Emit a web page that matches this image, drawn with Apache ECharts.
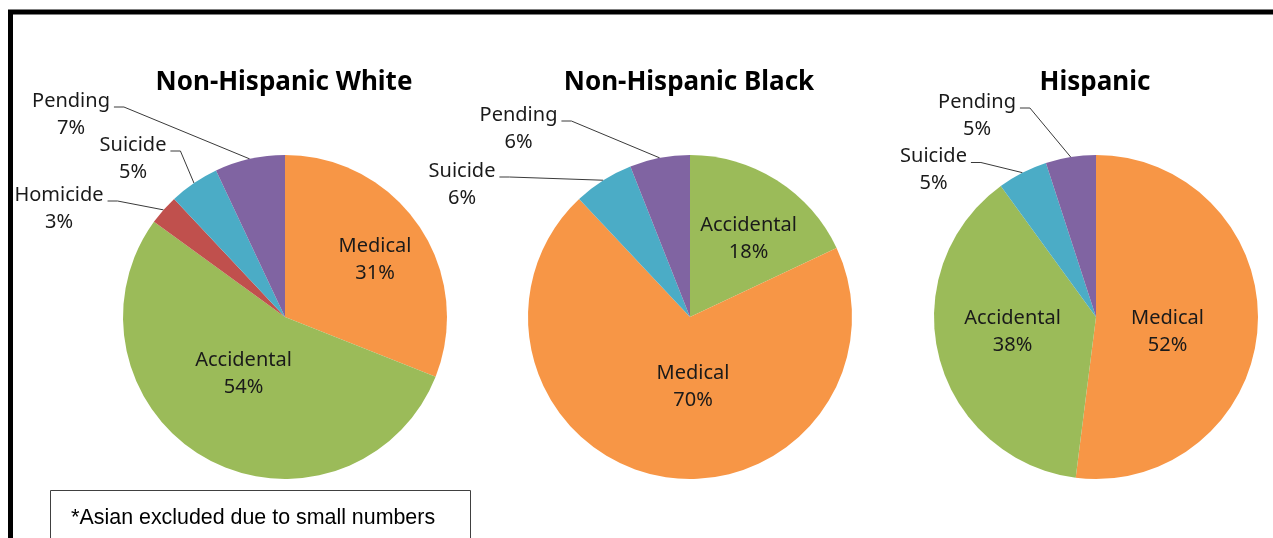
<!DOCTYPE html>
<html>
<head>
<meta charset="utf-8">
<script src="https://cdn.jsdelivr.net/npm/echarts@6/dist/echarts.min.js"></script>
<style>
html,body{margin:0;padding:0;background:#fff;}
#chart{width:1273px;height:538px;}
</style>
</head>
<body>
<div id="chart"></div>
<script>
// ---- data ----
const chartTitles = ['Non-Hispanic White', 'Non-Hispanic Black', 'Hispanic'];
const whiteCategories = ['Medical', 'Accidental', 'Homicide', 'Suicide', 'Pending'];
const whiteValues = [31, 54, 3, 5, 7];
const blackCategories = ['Accidental', 'Medical', 'Suicide', 'Pending'];
const blackValues = [18, 70, 6, 6];
const hispanicCategories = ['Medical', 'Accidental', 'Suicide', 'Pending'];
const hispanicValues = [52, 38, 5, 5];
const footnote = 'Asian excluded due to small numbers';

// ---- styling / layout ----
const colorOf = {
  Medical: '#F79646',
  Accidental: '#9BBB59',
  Homicide: '#C0504D',
  Suicide: '#4BACC6',
  Pending: '#8064A2'
};
const pieCenters = [[285, 317], [690, 317], [1096, 317]];
const pieRadius = 162;
// label block centers (text positions, per series)
const labelPos = [
  { Medical: [375, 259.5], Accidental: [243.5, 373.5], Homicide: [59, 208.5], Suicide: [133, 158.5], Pending: [71, 114.5] },
  { Accidental: [748.5, 238.5], Medical: [693, 386.5], Suicide: [462, 184.5], Pending: [518.5, 128.5] },
  { Medical: [1167.5, 332], Accidental: [1012.5, 331.5], Suicide: [933.5, 170], Pending: [977, 115.5] }
];
const LABEL_FONT = 20;
const LABEL_LH = 27;

const seriesDefs = [
  [whiteCategories, whiteValues],
  [blackCategories, blackValues],
  [hispanicCategories, hispanicValues]
];

function makeSeries(def, si) {
  const cats = def[0], vals = def[1];
  return {
    type: 'pie',
    center: pieCenters[si],
    radius: pieRadius,
    startAngle: 90,
    clockwise: true,
    avoidLabelOverlap: false,
    silent: true,
    emphasis: { disabled: true },
    data: cats.map((c, i) => {
      const inside = vals[i] >= 10;
      return {
        name: c,
        value: vals[i],
        itemStyle: { color: colorOf[c] },
        label: { position: inside ? 'inside' : 'outside' },
        labelLine: { show: !inside }
      };
    }),
    label: {
      show: true,
      formatter: '{b}\n{c}%',
      fontFamily: 'Noto Sans',
      fontSize: LABEL_FONT,
      lineHeight: LABEL_LH,
      color: '#1a1a1a',
      align: 'center'
    },
    labelLine: {
      show: true,
      lineStyle: { color: '#3a3a3a', width: 1 }
    },
    labelLayout: function (p) {
      const name = cats[p.dataIndex];
      const pos = labelPos[si][name];
      const w = p.labelRect.width, h = p.labelRect.height;
      const out = { x: pos[0], y: pos[1], align: 'center', verticalAlign: 'middle' };
      if (vals[p.dataIndex] < 10 && p.labelLinePoints) {
        const edge = p.labelLinePoints[0];
        const right = pos[0] + w / 2;
        const top = pos[1] - h / 2;
        const endPt = [right + 4, top + LABEL_LH / 2 + 6];
        const elbow = [endPt[0] + 10, endPt[1]];
        out.labelLinePoints = [edge, elbow, endPt];
      }
      return out;
    }
  };
}

const chart = echarts.init(document.getElementById('chart'), null, { renderer: 'canvas' });
chart.setOption({
  animation: false,
  backgroundColor: '#fff',
  title: chartTitles.map((t, i) => ({
    text: t,
    left: pieCenters[i][0] - 1,
    top: 70,
    textAlign: 'center',
    padding: 0,
    textStyle: { fontFamily: 'Noto Sans', fontWeight: 'bold', fontSize: 26, color: '#000' }
  })),
  graphic: [
    {
      type: 'rect',
      shape: { x: 10.5, y: 12, width: 1400, height: 800 },
      style: { fill: 'none', stroke: '#000', lineWidth: 5 },
      silent: true
    },
    {
      type: 'rect',
      shape: { x: 50.5, y: 490.5, width: 420, height: 100 },
      style: { fill: '#fff', stroke: '#404040', lineWidth: 1 },
      silent: true,
      z: 10
    },
    {
      type: 'text',
      x: 71,
      y: 518,
      z: 11,
      silent: true,
      style: {
        text: '{s|*}{t|' + footnote + '}',
        verticalAlign: 'middle',
        rich: {
          s: { fontFamily: 'Liberation Sans', fontSize: 22, fill: '#000', verticalAlign: 'top' },
          t: { fontFamily: 'Liberation Sans', fontSize: 21.4, fill: '#000' }
        }
      }
    }
  ],
  series: seriesDefs.map(makeSeries)
});
</script>
</body>
</html>
